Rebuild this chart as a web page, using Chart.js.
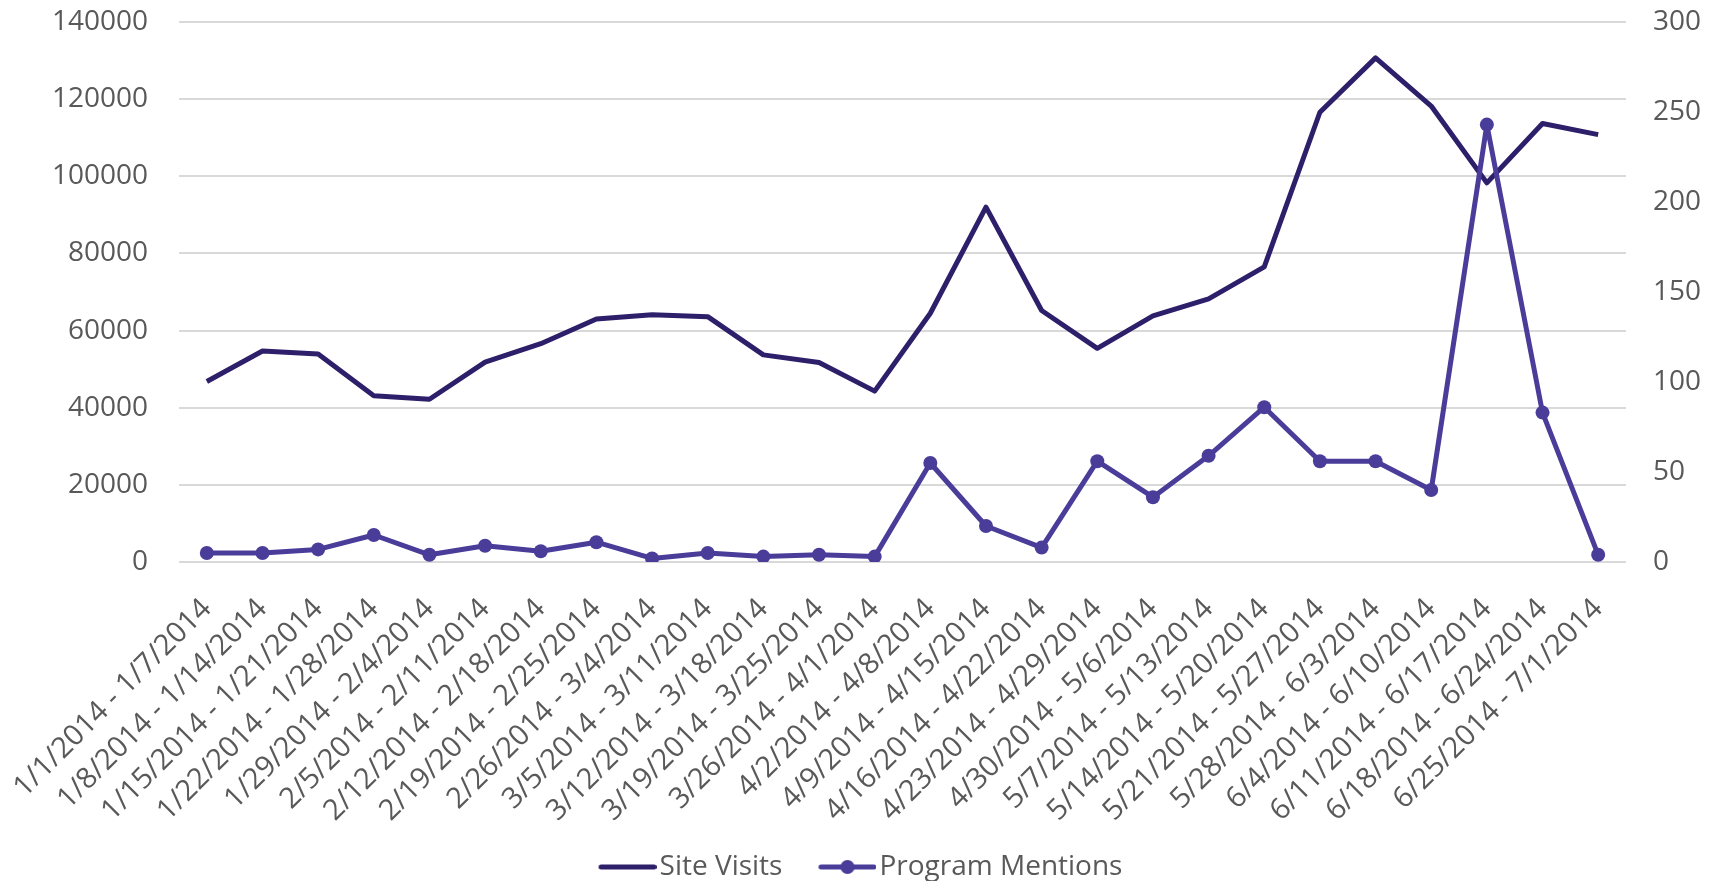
<!DOCTYPE html>
<html>
<head>
<meta charset="utf-8">
<script src="https://cdn.jsdelivr.net/npm/chart.js@4.4.1/dist/chart.umd.min.js"></script>
<style>
  html, body { margin: 0; padding: 0; background: #fff; }
  canvas { display: block; }
</style>
</head>
<body>
<canvas id="myChart" width="1721" height="881"></canvas>
<script>
'use strict';

const weeks = [
  '1/1/2014 - 1/7/2014', '1/8/2014 - 1/14/2014', '1/15/2014 - 1/21/2014',
  '1/22/2014 - 1/28/2014', '1/29/2014 - 2/4/2014', '2/5/2014 - 2/11/2014',
  '2/12/2014 - 2/18/2014', '2/19/2014 - 2/25/2014', '2/26/2014 - 3/4/2014',
  '3/5/2014 - 3/11/2014', '3/12/2014 - 3/18/2014', '3/19/2014 - 3/25/2014',
  '3/26/2014 - 4/1/2014', '4/2/2014 - 4/8/2014', '4/9/2014 - 4/15/2014',
  '4/16/2014 - 4/22/2014', '4/23/2014 - 4/29/2014', '4/30/2014 - 5/6/2014',
  '5/7/2014 - 5/13/2014', '5/14/2014 - 5/20/2014', '5/21/2014 - 5/27/2014',
  '5/28/2014 - 6/3/2014', '6/4/2014 - 6/10/2014', '6/11/2014 - 6/17/2014',
  '6/18/2014 - 6/24/2014', '6/25/2014 - 7/1/2014'
];

const siteVisits = [
  46800, 54700, 53900, 43100, 42200, 51800, 56600, 63000, 64100, 63600,
  53700, 51700, 44300, 64500, 92000, 65200, 55400, 63800, 68200, 76500,
  116600, 130700, 118200, 98300, 113700, 110800
];

const programMentions = [
  5, 5, 7, 15, 4, 9, 6, 11, 2, 5, 3, 4, 3,
  55, 20, 8, 56, 36, 59, 86, 56, 56, 40, 243, 83, 4
];

// axis ranges
const visitsMax = 140000;
const visitsStep = 20000;
const mentionsMax = 300;
const mentionsStep = 50;

const visitsColor = '#2e1f6a';
const mentionsColor = '#4a3c99';
const textColor = '#595959';
const gridColor = '#d9d9d9';

// little line (and dot) pictures for the legend
function legendSymbol(color, withDot) {
  let c = document.createElement('canvas');
  c.width = 105;
  c.height = 16;
  let ctx = c.getContext('2d');
  ctx.strokeStyle = color;
  ctx.lineWidth = 5;
  ctx.lineCap = 'round';
  ctx.beginPath();
  ctx.moveTo(49.5, 8);
  ctx.lineTo(102.5, 8);
  ctx.stroke();
  if (withDot) {
    ctx.fillStyle = color;
    ctx.beginPath();
    ctx.arc(76, 8, 7, 0, Math.PI * 2);
    ctx.fill();
  }
  return c;
}

const symbols = [legendSymbol(visitsColor, false), legendSymbol(mentionsColor, true)];

// the label overhang is not wanted, the plot area is set by hand
function noOverhang(scale) {
  scale.paddingTop = 0;
  scale.paddingBottom = 0;
  scale.paddingLeft = 0;
  scale.paddingRight = 0;
}

const data = {
  labels: weeks,
  datasets: [{
    label: 'Site Visits',
    data: siteVisits,
    yAxisID: 'y',
    borderColor: visitsColor,
    backgroundColor: visitsColor,
    borderWidth: 5,
    pointRadius: 0,
    pointHoverRadius: 0,
    tension: 0,
    borderJoinStyle: 'round',
    order: 1
  },
  {
    label: 'Program Mentions',
    data: programMentions,
    yAxisID: 'y1',
    borderColor: mentionsColor,
    backgroundColor: mentionsColor,
    borderWidth: 5,
    pointRadius: 7,
    pointBorderWidth: 0,
    pointBackgroundColor: mentionsColor,
    tension: 0,
    borderJoinStyle: 'round',
    order: 0
  }]
};

const config = {
  type: 'line',
  data: data,
  options: {
    responsive: false,
    animation: false,
    layout: {
      padding: { top: 22, left: -36, right: 0, bottom: -10 }
    },
    plugins: {
      tooltip: { enabled: false },
      legend: {
        position: 'bottom',
        labels: {
          usePointStyle: true,
          pointStyleWidth: 83,
          padding: 0,
          color: textColor,
          font: { family: 'Open Sans', size: 28 },
          sort: (a, b) => a.datasetIndex - b.datasetIndex,
          generateLabels: function (chart) {
            let items = Chart.defaults.plugins.legend.labels.generateLabels(chart);
            items.forEach(item => { item.pointStyle = symbols[item.datasetIndex]; });
            return items;
          }
        }
      }
    },
    scales: {
      x: {
        offset: true,
        grid: { display: false },
        border: { display: false },
        ticks: {
          autoSkip: false,
          maxRotation: 45,
          minRotation: 45,
          padding: 22,
          color: textColor,
          font: { family: 'Open Sans', size: 29 }
        },
        afterFit: function (scale) {
          scale.height = 291;
          noOverhang(scale);
        }
      },
      y: {
        position: 'left',
        min: 0,
        max: visitsMax,
        grid: { color: gridColor, lineWidth: 2, drawTicks: false },
        border: { display: false },
        ticks: {
          stepSize: visitsStep,
          padding: 31,
          color: textColor,
          font: { family: 'Open Sans', size: 28 },
          callback: v => String(v)
        },
        afterFit: function (scale) {
          scale.width = 215;
          noOverhang(scale);
        }
      },
      y1: {
        position: 'right',
        min: 0,
        max: mentionsMax,
        grid: { display: false, drawTicks: false },
        border: { display: false },
        ticks: {
          stepSize: mentionsStep,
          padding: 27,
          color: textColor,
          font: { family: 'Open Sans', size: 28 },
          callback: v => String(v)
        },
        afterFit: function (scale) {
          scale.width = 95;
          noOverhang(scale);
        }
      }
    }
  }
};

let canvasChart = document.getElementById('myChart');
const myChart = new Chart(canvasChart, config);
</script>
</body>
</html>
